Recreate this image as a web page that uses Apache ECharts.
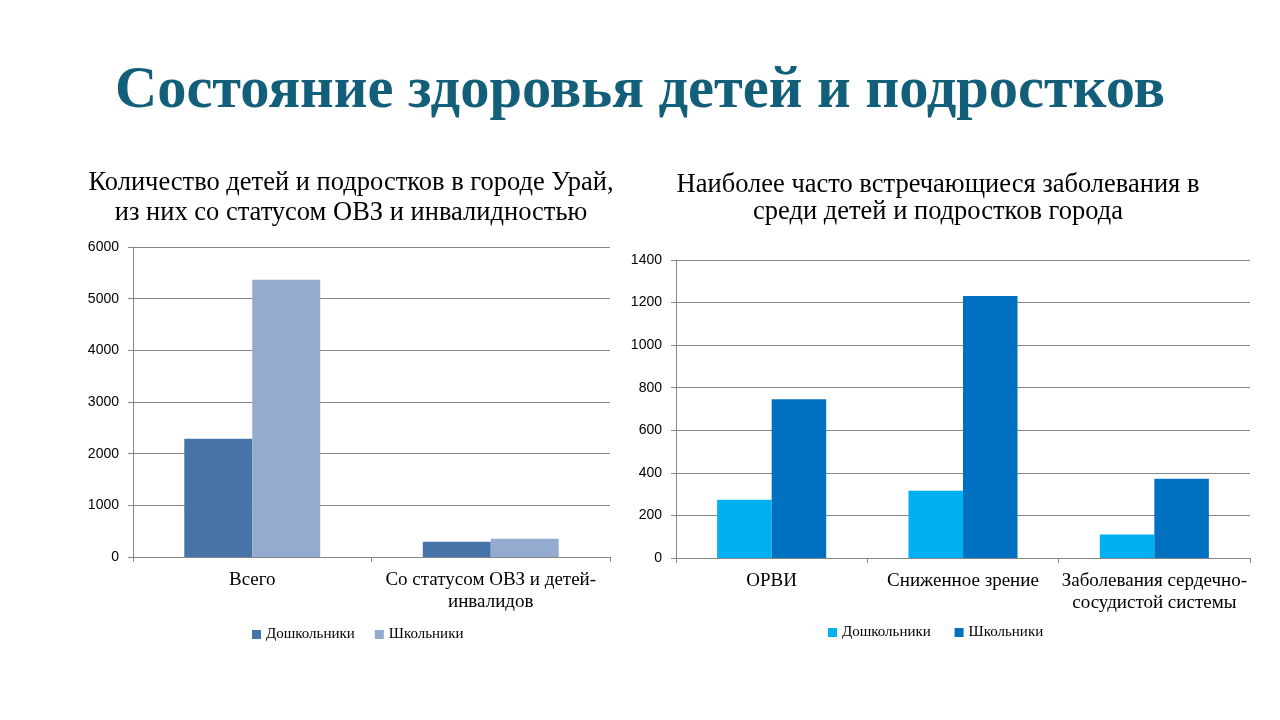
<!DOCTYPE html>
<html><head><meta charset="utf-8">
<script src="https://cdn.jsdelivr.net/npm/echarts@6/dist/echarts.min.js"></script>
<style>html,body{margin:0;padding:0;background:#fff;}#c{width:1280px;height:720px;}</style>
</head><body><div id="c"></div>
<script>
const mainTitle = 'Состояние здоровья детей и подростков';
const leftTitle = 'Количество детей и подростков в городе Урай,\nиз них со статусом ОВЗ и инвалидностью';
const rightTitle = 'Наиболее часто встречающиеся заболевания в\nсреди детей и подростков города';
const seriesNames = ['Дошкольники', 'Школьники'];

const leftCategories = ['Всего', 'Со статусом ОВЗ и детей-\nинвалидов'];
const leftPreschool = [2290, 295];
const leftSchool = [5365, 355];

const rightCategories = ['ОРВИ', 'Сниженное зрение', 'Заболевания сердечно-\nсосудистой системы'];
const rightPreschool = [274, 316, 110];
const rightSchool = [746, 1231, 372];

const serif = '"Liberation Serif", "Times New Roman", serif';
const sans = '"Liberation Sans", Arial, sans-serif';
const gridColor = '#868686';

const chart = echarts.init(document.getElementById('c'));

function xAxis(idx, cats) {
  return {
    type: 'category', gridIndex: idx, data: cats,
    axisLine: {lineStyle: {color: gridColor}},
    axisTick: {show: true, length: 5, lineStyle: {color: gridColor}},
    axisLabel: {interval: 0, fontFamily: serif, fontSize: 19, color: '#000', margin: 12, lineHeight: 22}
  };
}
function yAxis(idx, max, interval) {
  return {
    type: 'value', gridIndex: idx, min: 0, max: max, interval: interval,
    axisLine: {show: true, lineStyle: {color: gridColor}},
    axisTick: {show: true, length: 5, lineStyle: {color: gridColor}},
    splitLine: {lineStyle: {color: gridColor}},
    axisLabel: {fontFamily: sans, fontSize: 14, color: '#000', margin: 14, formatter: v => String(v)}
  };
}

const legendBase = {itemWidth: 9, itemHeight: 9, itemGap: 20, icon: 'rect',
  textStyle: {fontFamily: serif, fontSize: 15, color: '#000'}};

chart.setOption({
  animation: false,
  backgroundColor: '#fff',
  title: [
    {text: mainTitle, left: 'center', top: 57,
     textStyle: {fontFamily: serif, fontWeight: 'bold', fontSize: 58.5, color: '#135F79'}},
    {text: leftTitle, left: 346, textAlign: 'center', top: 163,
     textStyle: {fontFamily: serif, fontWeight: 'normal', fontSize: 26.5, lineHeight: 30, color: '#000'}},
    {text: rightTitle, left: 933, textAlign: 'center', top: 167,
     textStyle: {fontFamily: serif, fontWeight: 'normal', fontSize: 26.5, lineHeight: 27, color: '#000'}}
  ],
  legend: [
    Object.assign({data: [seriesNames[0], seriesNames[1]], left: 247, top: 622}, legendBase),
    Object.assign({data: [seriesNames[0] + ' ', seriesNames[1] + ' '], left: 823, top: 620}, legendBase)
  ],
  grid: [
    {left: 133, right: 670, top: 247, bottom: 163},
    {left: 676, right: 30, top: 260, bottom: 162}
  ],
  xAxis: [xAxis(0, leftCategories), xAxis(1, rightCategories)],
  yAxis: [yAxis(0, 6000, 1000), yAxis(1, 1400, 200)],
  series: [
    {name: seriesNames[0], type: 'bar', xAxisIndex: 0, yAxisIndex: 0, data: leftPreschool,
     itemStyle: {color: '#4673A8'}, barGap: '0%', barCategoryGap: '43%'},
    {name: seriesNames[1], type: 'bar', xAxisIndex: 0, yAxisIndex: 0, data: leftSchool,
     itemStyle: {color: '#95AACF'}, barGap: '0%', barCategoryGap: '43%'},
    {name: seriesNames[0] + ' ', type: 'bar', xAxisIndex: 1, yAxisIndex: 1, data: rightPreschool,
     itemStyle: {color: '#00B0F0'}, barGap: '0%', barCategoryGap: '43%'},
    {name: seriesNames[1] + ' ', type: 'bar', xAxisIndex: 1, yAxisIndex: 1, data: rightSchool,
     itemStyle: {color: '#0070C0'}, barGap: '0%', barCategoryGap: '43%'}
  ]
});
</script></body></html>
